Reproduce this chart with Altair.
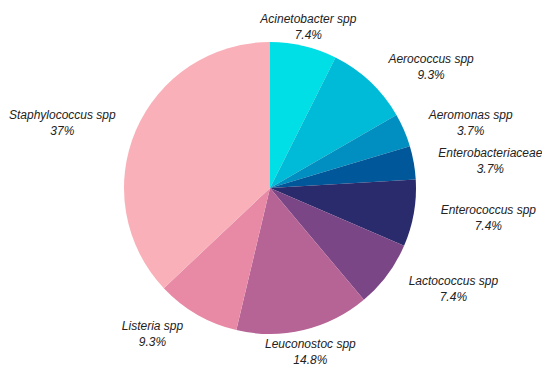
import altair as alt
import pandas as pd

# ---- data ----
names = ["Acinetobacter spp", "Aerococcus spp", "Aeromonas spp", "Enterobacteriaceae",
         "Enterococcus spp", "Lactococcus spp", "Leuconostoc spp", "Listeria spp",
         "Staphylococcus spp"]
counts = [4, 5, 2, 2, 4, 4, 8, 5, 20]
pct_labels = ["7.4%", "9.3%", "3.7%", "3.7%", "7.4%", "7.4%", "14.8%", "9.3%", "37%"]
colors = ["#00DEE6", "#00BBD7", "#008FC0", "#00589A", "#2A2B6C", "#7B4686",
          "#B66395", "#E889A6", "#F9B0B8"]

df = pd.DataFrame({
    "name": names,
    "count": counts,
    "order": list(range(len(names))),
    "label": [f"{n}\n{p}" for n, p in zip(names, pct_labels)],
})

# ---- layout ----
CX, CY = 262, 180          # pie centre inside the plot area
PIE_R = 146
LABEL_R = 175
label_nudge = {            # (dx, dy) from the mid-angle anchor
    "Acinetobacter spp": (-2, 1),
    "Aerococcus spp": (41, -2),
    "Aeromonas spp": (40, -4),
    "Enterobacteriaceae": (48, -5),
    "Enterococcus spp": (46, -8),
    "Lactococcus spp": (43, -12),
    "Leuconostoc spp": (0, -14),
    "Listeria spp": (-30, -14),
    "Staphylococcus spp": (-47, -4),
}

total = sum(counts)
theta_scale = alt.Scale(domain=[0, total])
color_scale = alt.Scale(domain=names, range=colors)

pie = alt.Chart(df).mark_arc(radius=PIE_R, strokeWidth=0).encode(
    theta=alt.Theta("count:Q", stack=True, scale=theta_scale),
    order=alt.Order("order:Q"),
    color=alt.Color("name:N", scale=color_scale, legend=None),
    x=alt.value(CX),
    y=alt.value(CY),
)

layers = [pie]
for n in names:
    dx, dy = label_nudge[n]
    t = (
        alt.Chart(df)
        .transform_window(cum="sum(count)", sort=[alt.SortField("order")])
        .transform_calculate(mid="datum.cum - datum.count / 2")
        .transform_filter(alt.datum.name == n)
        .mark_text(radius=LABEL_R, dx=dx, dy=dy, lineBreak="\n", lineHeight=16,
                   font="Liberation Sans", fontStyle="italic", fontSize=12,
                   color="#222222", align="center", baseline="middle")
        .encode(
            theta=alt.Theta("mid:Q", scale=theta_scale),
            text="label:N",
            x=alt.value(CX),
            y=alt.value(CY),
        )
    )
    layers.append(t)

chart = (
    alt.layer(*layers)
    .properties(width=534, height=361, padding=0, autosize=alt.AutoSizeParams(type="none"))
    .configure_view(stroke=None)
)

chart.save("out.html", embed_options={"renderer": "svg", "actions": False})
